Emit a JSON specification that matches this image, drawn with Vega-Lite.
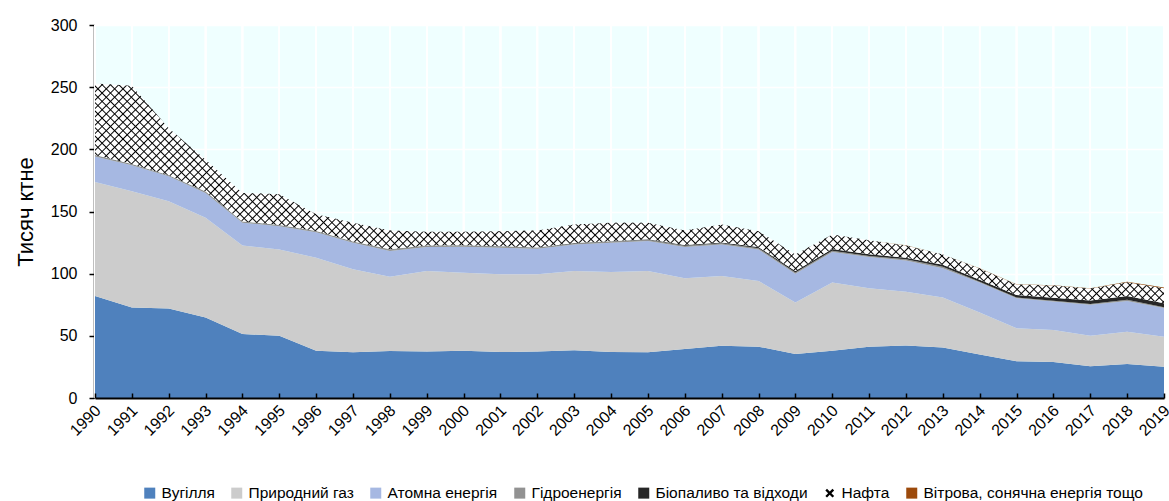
{
"$schema": "https://vega.github.io/schema/vega-lite/v6.json",
"width": 1069, "height": 373,
"autosize": {"type": "none"},
"padding": {"left": 95, "top": 25, "right": 5, "bottom": 103},
"background": "white",
"config": {"view": {"fill": "#EFFFFF", "stroke": null}, "font": "Liberation Sans, Arial, sans-serif"},
"data": {"values": [
{"year":1990,"source":"Вугілля","value":82.1},{"year":1990,"source":"Природний газ","value":91.6},{"year":1990,"source":"Атомна енергія","value":20.6},{"year":1990,"source":"Гідроенергія","value":0.9},{"year":1990,"source":"Біопаливо та відходи","value":0.2},{"year":1990,"source":"Нафта","value":57.6},{"year":1990,"source":"Вітрова, сонячна енергія тощо","value":0},
{"year":1991,"source":"Вугілля","value":72.8},{"year":1991,"source":"Природний газ","value":93.5},{"year":1991,"source":"Атомна енергія","value":20.8},{"year":1991,"source":"Гідроенергія","value":1.0},{"year":1991,"source":"Біопаливо та відходи","value":0.2},{"year":1991,"source":"Нафта","value":62.9},{"year":1991,"source":"Вітрова, сонячна енергія тощо","value":0},
{"year":1992,"source":"Вугілля","value":72.0},{"year":1992,"source":"Природний газ","value":86.3},{"year":1992,"source":"Атомна енергія","value":20.0},{"year":1992,"source":"Гідроенергія","value":0.7},{"year":1992,"source":"Біопаливо та відходи","value":0.2},{"year":1992,"source":"Нафта","value":37.8},{"year":1992,"source":"Вітрова, сонячна енергія тощо","value":0},
{"year":1993,"source":"Вугілля","value":64.8},{"year":1993,"source":"Природний газ","value":80.1},{"year":1993,"source":"Атомна енергія","value":20.0},{"year":1993,"source":"Гідроенергія","value":0.9},{"year":1993,"source":"Біопаливо та відходи","value":0.2},{"year":1993,"source":"Нафта","value":25.7},{"year":1993,"source":"Вітрова, сонячна енергія тощо","value":0},
{"year":1994,"source":"Вугілля","value":51.4},{"year":1994,"source":"Природний газ","value":71.3},{"year":1994,"source":"Атомна енергія","value":18.2},{"year":1994,"source":"Гідроенергія","value":0.9},{"year":1994,"source":"Біопаливо та відходи","value":0.2},{"year":1994,"source":"Нафта","value":22.9},{"year":1994,"source":"Вітрова, сонячна енергія тощо","value":0},
{"year":1995,"source":"Вугілля","value":50.1},{"year":1995,"source":"Природний газ","value":69.4},{"year":1995,"source":"Атомна енергія","value":18.7},{"year":1995,"source":"Гідроенергія","value":0.8},{"year":1995,"source":"Біопаливо та відходи","value":0.2},{"year":1995,"source":"Нафта","value":24.7},{"year":1995,"source":"Вітрова, сонячна енергія тощо","value":0},
{"year":1996,"source":"Вугілля","value":38.1},{"year":1996,"source":"Природний газ","value":74.7},{"year":1996,"source":"Атомна енергія","value":20.6},{"year":1996,"source":"Гідроенергія","value":0.8},{"year":1996,"source":"Біопаливо та відходи","value":0.2},{"year":1996,"source":"Нафта","value":13.4},{"year":1996,"source":"Вітрова, сонячна енергія тощо","value":0},
{"year":1997,"source":"Вугілля","value":36.7},{"year":1997,"source":"Природний газ","value":66.8},{"year":1997,"source":"Атомна енергія","value":21.3},{"year":1997,"source":"Гідроенергія","value":0.9},{"year":1997,"source":"Біопаливо та відходи","value":0.2},{"year":1997,"source":"Нафта","value":15.0},{"year":1997,"source":"Вітрова, сонячна енергія тощо","value":0},
{"year":1998,"source":"Вугілля","value":37.9},{"year":1998,"source":"Природний газ","value":59.7},{"year":1998,"source":"Атомна енергія","value":20.6},{"year":1998,"source":"Гідроенергія","value":1.3},{"year":1998,"source":"Біопаливо та відходи","value":0.2},{"year":1998,"source":"Нафта","value":15.1},{"year":1998,"source":"Вітрова, сонячна енергія тощо","value":0},
{"year":1999,"source":"Вугілля","value":37.5},{"year":1999,"source":"Природний газ","value":64.7},{"year":1999,"source":"Атомна енергія","value":19.2},{"year":1999,"source":"Гідроенергія","value":1.1},{"year":1999,"source":"Біопаливо та відходи","value":0.2},{"year":1999,"source":"Нафта","value":11.0},{"year":1999,"source":"Вітрова, сонячна енергія тощо","value":0},
{"year":2000,"source":"Вугілля","value":38.0},{"year":2000,"source":"Природний газ","value":62.8},{"year":2000,"source":"Атомна енергія","value":20.8},{"year":2000,"source":"Гідроенергія","value":1.0},{"year":2000,"source":"Біопаливо та відходи","value":0.2},{"year":2000,"source":"Нафта","value":10.9},{"year":2000,"source":"Вітрова, сонячна енергія тощо","value":0},
{"year":2001,"source":"Вугілля","value":36.9},{"year":2001,"source":"Природний газ","value":62.6},{"year":2001,"source":"Атомна енергія","value":21.3},{"year":2001,"source":"Гідроенергія","value":1.0},{"year":2001,"source":"Біопаливо та відходи","value":0.3},{"year":2001,"source":"Нафта","value":12.1},{"year":2001,"source":"Вітрова, сонячна енергія тощо","value":0},
{"year":2002,"source":"Вугілля","value":37.5},{"year":2002,"source":"Природний газ","value":62.0},{"year":2002,"source":"Атомна енергія","value":20.5},{"year":2002,"source":"Гідроенергія","value":0.8},{"year":2002,"source":"Біопаливо та відходи","value":0.3},{"year":2002,"source":"Нафта","value":13.7},{"year":2002,"source":"Вітрова, сонячна енергія тощо","value":0},
{"year":2003,"source":"Вугілля","value":38.5},{"year":2003,"source":"Природний газ","value":63.7},{"year":2003,"source":"Атомна енергія","value":21.3},{"year":2003,"source":"Гідроенергія","value":0.8},{"year":2003,"source":"Біопаливо та відходи","value":0.3},{"year":2003,"source":"Нафта","value":15.0},{"year":2003,"source":"Вітрова, сонячна енергія тощо","value":0},
{"year":2004,"source":"Вугілля","value":37.0},{"year":2004,"source":"Природний газ","value":64.4},{"year":2004,"source":"Атомна енергія","value":23.4},{"year":2004,"source":"Гідроенергія","value":1.0},{"year":2004,"source":"Біопаливо та відходи","value":0.3},{"year":2004,"source":"Нафта","value":14.8},{"year":2004,"source":"Вітрова, сонячна енергія тощо","value":0},
{"year":2005,"source":"Вугілля","value":36.7},{"year":2005,"source":"Природний газ","value":65.5},{"year":2005,"source":"Атомна енергія","value":24.0},{"year":2005,"source":"Гідроенергія","value":1.1},{"year":2005,"source":"Біопаливо та відходи","value":0.4},{"year":2005,"source":"Нафта","value":13.2},{"year":2005,"source":"Вітрова, сонячна енергія тощо","value":0},
{"year":2006,"source":"Вугілля","value":39.4},{"year":2006,"source":"Природний газ","value":56.9},{"year":2006,"source":"Атомна енергія","value":25.1},{"year":2006,"source":"Гідроенергія","value":1.1},{"year":2006,"source":"Біопаливо та відходи","value":0.5},{"year":2006,"source":"Нафта","value":11.8},{"year":2006,"source":"Вітрова, сонячна енергія тощо","value":0},
{"year":2007,"source":"Вугілля","value":42.1},{"year":2007,"source":"Природний газ","value":56.1},{"year":2007,"source":"Атомна енергія","value":25.3},{"year":2007,"source":"Гідроенергія","value":0.9},{"year":2007,"source":"Біопаливо та відходи","value":0.6},{"year":2007,"source":"Нафта","value":14.6},{"year":2007,"source":"Вітрова, сонячна енергія тощо","value":0},
{"year":2008,"source":"Вугілля","value":41.3},{"year":2008,"source":"Природний газ","value":52.9},{"year":2008,"source":"Атомна енергія","value":25.3},{"year":2008,"source":"Гідроенергія","value":1.0},{"year":2008,"source":"Біопаливо та відходи","value":0.9},{"year":2008,"source":"Нафта","value":12.8},{"year":2008,"source":"Вітрова, сонячна енергія тощо","value":0},
{"year":2009,"source":"Вугілля","value":35.4},{"year":2009,"source":"Природний газ","value":41.4},{"year":2009,"source":"Атомна енергія","value":23.2},{"year":2009,"source":"Гідроенергія","value":1.0},{"year":2009,"source":"Біопаливо та відходи","value":1.1},{"year":2009,"source":"Нафта","value":13.4},{"year":2009,"source":"Вітрова, сонячна енергія тощо","value":0},
{"year":2010,"source":"Вугілля","value":38.1},{"year":2010,"source":"Природний газ","value":54.7},{"year":2010,"source":"Атомна енергія","value":24.6},{"year":2010,"source":"Гідроенергія","value":1.1},{"year":2010,"source":"Біопаливо та відходи","value":1.4},{"year":2010,"source":"Нафта","value":11.7},{"year":2010,"source":"Вітрова, сонячна енергія тощо","value":0},
{"year":2011,"source":"Вугілля","value":41.3},{"year":2011,"source":"Природний газ","value":47.0},{"year":2011,"source":"Атомна енергія","value":25.1},{"year":2011,"source":"Гідроенергія","value":0.9},{"year":2011,"source":"Біопаливо та відходи","value":1.4},{"year":2011,"source":"Нафта","value":11.1},{"year":2011,"source":"Вітрова, сонячна енергія тощо","value":0},
{"year":2012,"source":"Вугілля","value":42.3},{"year":2012,"source":"Природний газ","value":43.2},{"year":2012,"source":"Атомна енергія","value":25.1},{"year":2012,"source":"Гідроенергія","value":0.9},{"year":2012,"source":"Біопаливо та відходи","value":1.4},{"year":2012,"source":"Нафта","value":9.8},{"year":2012,"source":"Вітрова, сонячна енергія тощо","value":0.1},
{"year":2013,"source":"Вугілля","value":40.7},{"year":2013,"source":"Природний газ","value":40.1},{"year":2013,"source":"Атомна енергія","value":23.5},{"year":2013,"source":"Гідроенергія","value":1.2},{"year":2013,"source":"Біопаливо та відходи","value":1.6},{"year":2013,"source":"Нафта","value":8.3},{"year":2013,"source":"Вітрова, сонячна енергія тощо","value":0.1},
{"year":2014,"source":"Вугілля","value":34.9},{"year":2014,"source":"Природний газ","value":33.9},{"year":2014,"source":"Атомна енергія","value":24.0},{"year":2014,"source":"Гідроенергія","value":0.7},{"year":2014,"source":"Біопаливо та відходи","value":1.7},{"year":2014,"source":"Нафта","value":9.0},{"year":2014,"source":"Вітрова, сонячна енергія тощо","value":0.1},
{"year":2015,"source":"Вугілля","value":29.5},{"year":2015,"source":"Природний газ","value":26.7},{"year":2015,"source":"Атомна енергія","value":24.1},{"year":2015,"source":"Гідроенергія","value":0.6},{"year":2015,"source":"Біопаливо та відходи","value":2.0},{"year":2015,"source":"Нафта","value":8.4},{"year":2015,"source":"Вітрова, сонячна енергія тощо","value":0.2},
{"year":2016,"source":"Вугілля","value":29.0},{"year":2016,"source":"Природний газ","value":25.6},{"year":2016,"source":"Атомна енергія","value":23.0},{"year":2016,"source":"Гідроенергія","value":0.7},{"year":2016,"source":"Біопаливо та відходи","value":2.3},{"year":2016,"source":"Нафта","value":9.9},{"year":2016,"source":"Вітрова, сонячна енергія тощо","value":0.2},
{"year":2017,"source":"Вугілля","value":25.5},{"year":2017,"source":"Природний газ","value":24.6},{"year":2017,"source":"Атомна енергія","value":24.8},{"year":2017,"source":"Гідроенергія","value":0.8},{"year":2017,"source":"Біопаливо та відходи","value":2.8},{"year":2017,"source":"Нафта","value":9.6},{"year":2017,"source":"Вітрова, сонячна енергія тощо","value":0.2},
{"year":2018,"source":"Вугілля","value":27.4},{"year":2018,"source":"Природний газ","value":25.9},{"year":2018,"source":"Атомна енергія","value":24.8},{"year":2018,"source":"Гідроенергія","value":0.9},{"year":2018,"source":"Біопаливо та відходи","value":3.0},{"year":2018,"source":"Нафта","value":11.1},{"year":2018,"source":"Вітрова, сонячна енергія тощо","value":0.3},
{"year":2019,"source":"Вугілля","value":25.2},{"year":2019,"source":"Природний газ","value":24.1},{"year":2019,"source":"Атомна енергія","value":23.0},{"year":2019,"source":"Гідроенергія","value":0.6},{"year":2019,"source":"Біопаливо та відходи","value":3.4},{"year":2019,"source":"Нафта","value":11.9},{"year":2019,"source":"Вітрова, сонячна енергія тощо","value":0.6}
]},
"transform": [{"stack": "value", "groupby": ["year"], "as": ["y0", "y1"]}],
"encoding": {
  "x": {"field": "year", "type": "quantitative",
    "scale": {"domain": [1990, 2019], "nice": false, "zero": false},
    "axis": {"values": [1990,1991,1992,1993,1994,1995,1996,1997,1998,1999,2000,2001,2002,2003,2004,2005,2006,2007,2008,2009,2010,2011,2012,2013,2014,2015,2016,2017,2018,2019],
      "format": "d", "labelAngle": -45, "labelFont": "Liberation Sans, Arial, sans-serif", "labelFontSize": 16, "labelColor": "#000000",
      "labelPadding": 9, "labelOffset": -3, "labelOverlap": false, "labelFlush": false, "labelBound": false, "title": null,
      "grid": false, "domainColor": "#000000", "domainWidth": 2, "tickColor": "#000000", "tickWidth": 1.5, "tickSize": -5, "zindex": 1}}
},
"layer": [
  {"mark": {"type": "rule", "color": "#FFFFFF", "strokeWidth": 1.5}, "encoding": {}},
  {"mark": {"type": "area", "interpolate": "linear"},
   "encoding": {
     "y": {"field": "y1", "type": "quantitative", "scale": {"domain": [0, 300], "nice": false},
       "axis": {"values": [0,50,100,150,200,250,300], "title": "Тисяч ктне", "titleFont": "Liberation Sans, Arial, sans-serif", "titleFontSize": 22, "titleFontWeight": "normal", "titleColor": "#000000", "titlePadding": 13,
         "labelFont": "Liberation Sans, Arial, sans-serif", "labelFontSize": 16, "labelColor": "#000000", "labelPadding": 12,
         "grid": true, "gridColor": "#FFFFFF", "gridWidth": 1.5, "domainColor": "#000000", "domainWidth": 1.5,
         "tickColor": "#000000", "tickWidth": 1.5, "tickSize": 5, "offset": 1, "zindex": 0}},
     "y2": {"field": "y0"},
     "fill": {"field": "source", "type": "nominal", "legend": null,
       "sort": ["Вугілля","Природний газ","Атомна енергія","Гідроенергія","Біопаливо та відходи","Нафта","Вітрова, сонячна енергія тощо"],
       "scale": {"range": ["#4F81BD","#CCCCCC","#A6B8E2","#929292","#262626","#FFFFFF","#9C4A0B"]}}
   }},
  {"transform": [{"filter": "datum.source === 'Нафта'"}],
   "mark": {"type": "area", "interpolate": "linear",
     "fill": {"gradient": "linear", "x1": 0, "y1": 0, "x2": 1.25, "y2": 0.257, "stops": [
{"offset":0,"color":"transparent"},
{"offset":0.005,"color":"transparent"},{"offset":0.006,"color":"black"},{"offset":0.007,"color":"transparent"},
{"offset":0.011,"color":"transparent"},{"offset":0.012,"color":"black"},{"offset":0.013,"color":"transparent"},
{"offset":0.017,"color":"transparent"},{"offset":0.018,"color":"black"},{"offset":0.019,"color":"transparent"},
{"offset":0.023,"color":"transparent"},{"offset":0.024,"color":"black"},{"offset":0.025,"color":"transparent"},
{"offset":0.029,"color":"transparent"},{"offset":0.03,"color":"black"},{"offset":0.031,"color":"transparent"},
{"offset":0.035,"color":"transparent"},{"offset":0.036,"color":"black"},{"offset":0.037,"color":"transparent"},
{"offset":0.041,"color":"transparent"},{"offset":0.042,"color":"black"},{"offset":0.043,"color":"transparent"},
{"offset":0.047,"color":"transparent"},{"offset":0.048,"color":"black"},{"offset":0.049,"color":"transparent"},
{"offset":0.053,"color":"transparent"},{"offset":0.054,"color":"black"},{"offset":0.055,"color":"transparent"},
{"offset":0.059,"color":"transparent"},{"offset":0.06,"color":"black"},{"offset":0.061,"color":"transparent"},
{"offset":0.065,"color":"transparent"},{"offset":0.066,"color":"black"},{"offset":0.067,"color":"transparent"},
{"offset":0.071,"color":"transparent"},{"offset":0.072,"color":"black"},{"offset":0.073,"color":"transparent"},
{"offset":0.077,"color":"transparent"},{"offset":0.078,"color":"black"},{"offset":0.079,"color":"transparent"},
{"offset":0.083,"color":"transparent"},{"offset":0.084,"color":"black"},{"offset":0.085,"color":"transparent"},
{"offset":0.089,"color":"transparent"},{"offset":0.09,"color":"black"},{"offset":0.091,"color":"transparent"},
{"offset":0.095,"color":"transparent"},{"offset":0.096,"color":"black"},{"offset":0.097,"color":"transparent"},
{"offset":0.101,"color":"transparent"},{"offset":0.102,"color":"black"},{"offset":0.103,"color":"transparent"},
{"offset":0.107,"color":"transparent"},{"offset":0.108,"color":"black"},{"offset":0.109,"color":"transparent"},
{"offset":0.113,"color":"transparent"},{"offset":0.114,"color":"black"},{"offset":0.115,"color":"transparent"},
{"offset":0.119,"color":"transparent"},{"offset":0.12,"color":"black"},{"offset":0.121,"color":"transparent"},
{"offset":0.125,"color":"transparent"},{"offset":0.126,"color":"black"},{"offset":0.127,"color":"transparent"},
{"offset":0.131,"color":"transparent"},{"offset":0.132,"color":"black"},{"offset":0.133,"color":"transparent"},
{"offset":0.137,"color":"transparent"},{"offset":0.138,"color":"black"},{"offset":0.139,"color":"transparent"},
{"offset":0.143,"color":"transparent"},{"offset":0.144,"color":"black"},{"offset":0.145,"color":"transparent"},
{"offset":0.149,"color":"transparent"},{"offset":0.15,"color":"black"},{"offset":0.151,"color":"transparent"},
{"offset":0.155,"color":"transparent"},{"offset":0.156,"color":"black"},{"offset":0.157,"color":"transparent"},
{"offset":0.161,"color":"transparent"},{"offset":0.162,"color":"black"},{"offset":0.163,"color":"transparent"},
{"offset":0.167,"color":"transparent"},{"offset":0.168,"color":"black"},{"offset":0.169,"color":"transparent"},
{"offset":0.173,"color":"transparent"},{"offset":0.174,"color":"black"},{"offset":0.175,"color":"transparent"},
{"offset":0.179,"color":"transparent"},{"offset":0.18,"color":"black"},{"offset":0.181,"color":"transparent"},
{"offset":0.185,"color":"transparent"},{"offset":0.186,"color":"black"},{"offset":0.187,"color":"transparent"},
{"offset":0.191,"color":"transparent"},{"offset":0.192,"color":"black"},{"offset":0.193,"color":"transparent"},
{"offset":0.197,"color":"transparent"},{"offset":0.198,"color":"black"},{"offset":0.199,"color":"transparent"},
{"offset":0.203,"color":"transparent"},{"offset":0.204,"color":"black"},{"offset":0.205,"color":"transparent"},
{"offset":0.209,"color":"transparent"},{"offset":0.21,"color":"black"},{"offset":0.211,"color":"transparent"},
{"offset":0.215,"color":"transparent"},{"offset":0.216,"color":"black"},{"offset":0.217,"color":"transparent"},
{"offset":0.221,"color":"transparent"},{"offset":0.222,"color":"black"},{"offset":0.223,"color":"transparent"},
{"offset":0.227,"color":"transparent"},{"offset":0.228,"color":"black"},{"offset":0.229,"color":"transparent"},
{"offset":0.233,"color":"transparent"},{"offset":0.234,"color":"black"},{"offset":0.235,"color":"transparent"},
{"offset":0.239,"color":"transparent"},{"offset":0.24,"color":"black"},{"offset":0.241,"color":"transparent"},
{"offset":0.245,"color":"transparent"},{"offset":0.246,"color":"black"},{"offset":0.247,"color":"transparent"},
{"offset":0.251,"color":"transparent"},{"offset":0.252,"color":"black"},{"offset":0.253,"color":"transparent"},
{"offset":0.257,"color":"transparent"},{"offset":0.258,"color":"black"},{"offset":0.259,"color":"transparent"},
{"offset":0.263,"color":"transparent"},{"offset":0.264,"color":"black"},{"offset":0.265,"color":"transparent"},
{"offset":0.269,"color":"transparent"},{"offset":0.27,"color":"black"},{"offset":0.271,"color":"transparent"},
{"offset":0.275,"color":"transparent"},{"offset":0.276,"color":"black"},{"offset":0.277,"color":"transparent"},
{"offset":0.281,"color":"transparent"},{"offset":0.282,"color":"black"},{"offset":0.283,"color":"transparent"},
{"offset":0.287,"color":"transparent"},{"offset":0.288,"color":"black"},{"offset":0.289,"color":"transparent"},
{"offset":0.293,"color":"transparent"},{"offset":0.294,"color":"black"},{"offset":0.295,"color":"transparent"},
{"offset":0.299,"color":"transparent"},{"offset":0.3,"color":"black"},{"offset":0.301,"color":"transparent"},
{"offset":0.305,"color":"transparent"},{"offset":0.306,"color":"black"},{"offset":0.307,"color":"transparent"},
{"offset":0.311,"color":"transparent"},{"offset":0.312,"color":"black"},{"offset":0.313,"color":"transparent"},
{"offset":0.317,"color":"transparent"},{"offset":0.318,"color":"black"},{"offset":0.319,"color":"transparent"},
{"offset":0.323,"color":"transparent"},{"offset":0.324,"color":"black"},{"offset":0.325,"color":"transparent"},
{"offset":0.329,"color":"transparent"},{"offset":0.33,"color":"black"},{"offset":0.331,"color":"transparent"},
{"offset":0.335,"color":"transparent"},{"offset":0.336,"color":"black"},{"offset":0.337,"color":"transparent"},
{"offset":0.341,"color":"transparent"},{"offset":0.342,"color":"black"},{"offset":0.343,"color":"transparent"},
{"offset":0.347,"color":"transparent"},{"offset":0.348,"color":"black"},{"offset":0.349,"color":"transparent"},
{"offset":0.353,"color":"transparent"},{"offset":0.354,"color":"black"},{"offset":0.355,"color":"transparent"},
{"offset":0.359,"color":"transparent"},{"offset":0.36,"color":"black"},{"offset":0.361,"color":"transparent"},
{"offset":0.365,"color":"transparent"},{"offset":0.366,"color":"black"},{"offset":0.367,"color":"transparent"},
{"offset":0.371,"color":"transparent"},{"offset":0.372,"color":"black"},{"offset":0.373,"color":"transparent"},
{"offset":0.377,"color":"transparent"},{"offset":0.378,"color":"black"},{"offset":0.379,"color":"transparent"},
{"offset":0.383,"color":"transparent"},{"offset":0.384,"color":"black"},{"offset":0.385,"color":"transparent"},
{"offset":0.389,"color":"transparent"},{"offset":0.39,"color":"black"},{"offset":0.391,"color":"transparent"},
{"offset":0.395,"color":"transparent"},{"offset":0.396,"color":"black"},{"offset":0.397,"color":"transparent"},
{"offset":0.401,"color":"transparent"},{"offset":0.402,"color":"black"},{"offset":0.403,"color":"transparent"},
{"offset":0.407,"color":"transparent"},{"offset":0.408,"color":"black"},{"offset":0.409,"color":"transparent"},
{"offset":0.413,"color":"transparent"},{"offset":0.414,"color":"black"},{"offset":0.415,"color":"transparent"},
{"offset":0.419,"color":"transparent"},{"offset":0.42,"color":"black"},{"offset":0.421,"color":"transparent"},
{"offset":0.425,"color":"transparent"},{"offset":0.426,"color":"black"},{"offset":0.427,"color":"transparent"},
{"offset":0.431,"color":"transparent"},{"offset":0.432,"color":"black"},{"offset":0.433,"color":"transparent"},
{"offset":0.437,"color":"transparent"},{"offset":0.438,"color":"black"},{"offset":0.439,"color":"transparent"},
{"offset":0.443,"color":"transparent"},{"offset":0.444,"color":"black"},{"offset":0.445,"color":"transparent"},
{"offset":0.449,"color":"transparent"},{"offset":0.45,"color":"black"},{"offset":0.451,"color":"transparent"},
{"offset":0.455,"color":"transparent"},{"offset":0.456,"color":"black"},{"offset":0.457,"color":"transparent"},
{"offset":0.461,"color":"transparent"},{"offset":0.462,"color":"black"},{"offset":0.463,"color":"transparent"},
{"offset":0.467,"color":"transparent"},{"offset":0.468,"color":"black"},{"offset":0.469,"color":"transparent"},
{"offset":0.473,"color":"transparent"},{"offset":0.474,"color":"black"},{"offset":0.475,"color":"transparent"},
{"offset":0.479,"color":"transparent"},{"offset":0.48,"color":"black"},{"offset":0.481,"color":"transparent"},
{"offset":0.485,"color":"transparent"},{"offset":0.486,"color":"black"},{"offset":0.487,"color":"transparent"},
{"offset":0.491,"color":"transparent"},{"offset":0.492,"color":"black"},{"offset":0.493,"color":"transparent"},
{"offset":0.497,"color":"transparent"},{"offset":0.498,"color":"black"},{"offset":0.499,"color":"transparent"},
{"offset":0.503,"color":"transparent"},{"offset":0.504,"color":"black"},{"offset":0.505,"color":"transparent"},
{"offset":0.509,"color":"transparent"},{"offset":0.51,"color":"black"},{"offset":0.511,"color":"transparent"},
{"offset":0.515,"color":"transparent"},{"offset":0.516,"color":"black"},{"offset":0.517,"color":"transparent"},
{"offset":0.521,"color":"transparent"},{"offset":0.522,"color":"black"},{"offset":0.523,"color":"transparent"},
{"offset":0.527,"color":"transparent"},{"offset":0.528,"color":"black"},{"offset":0.529,"color":"transparent"},
{"offset":0.533,"color":"transparent"},{"offset":0.534,"color":"black"},{"offset":0.535,"color":"transparent"},
{"offset":0.539,"color":"transparent"},{"offset":0.54,"color":"black"},{"offset":0.541,"color":"transparent"},
{"offset":0.545,"color":"transparent"},{"offset":0.546,"color":"black"},{"offset":0.547,"color":"transparent"},
{"offset":0.551,"color":"transparent"},{"offset":0.552,"color":"black"},{"offset":0.553,"color":"transparent"},
{"offset":0.557,"color":"transparent"},{"offset":0.558,"color":"black"},{"offset":0.559,"color":"transparent"},
{"offset":0.563,"color":"transparent"},{"offset":0.564,"color":"black"},{"offset":0.565,"color":"transparent"},
{"offset":0.569,"color":"transparent"},{"offset":0.57,"color":"black"},{"offset":0.571,"color":"transparent"},
{"offset":0.575,"color":"transparent"},{"offset":0.576,"color":"black"},{"offset":0.577,"color":"transparent"},
{"offset":0.581,"color":"transparent"},{"offset":0.582,"color":"black"},{"offset":0.583,"color":"transparent"},
{"offset":0.587,"color":"transparent"},{"offset":0.588,"color":"black"},{"offset":0.589,"color":"transparent"},
{"offset":0.593,"color":"transparent"},{"offset":0.594,"color":"black"},{"offset":0.595,"color":"transparent"},
{"offset":0.599,"color":"transparent"},{"offset":0.6,"color":"black"},{"offset":0.601,"color":"transparent"},
{"offset":0.605,"color":"transparent"},{"offset":0.606,"color":"black"},{"offset":0.607,"color":"transparent"},
{"offset":0.611,"color":"transparent"},{"offset":0.612,"color":"black"},{"offset":0.613,"color":"transparent"},
{"offset":0.617,"color":"transparent"},{"offset":0.618,"color":"black"},{"offset":0.619,"color":"transparent"},
{"offset":0.623,"color":"transparent"},{"offset":0.624,"color":"black"},{"offset":0.625,"color":"transparent"},
{"offset":0.629,"color":"transparent"},{"offset":0.63,"color":"black"},{"offset":0.631,"color":"transparent"},
{"offset":0.635,"color":"transparent"},{"offset":0.636,"color":"black"},{"offset":0.637,"color":"transparent"},
{"offset":0.641,"color":"transparent"},{"offset":0.642,"color":"black"},{"offset":0.643,"color":"transparent"},
{"offset":0.647,"color":"transparent"},{"offset":0.648,"color":"black"},{"offset":0.649,"color":"transparent"},
{"offset":0.653,"color":"transparent"},{"offset":0.654,"color":"black"},{"offset":0.655,"color":"transparent"},
{"offset":0.659,"color":"transparent"},{"offset":0.66,"color":"black"},{"offset":0.661,"color":"transparent"},
{"offset":0.665,"color":"transparent"},{"offset":0.666,"color":"black"},{"offset":0.667,"color":"transparent"},
{"offset":0.671,"color":"transparent"},{"offset":0.672,"color":"black"},{"offset":0.673,"color":"transparent"},
{"offset":0.677,"color":"transparent"},{"offset":0.678,"color":"black"},{"offset":0.679,"color":"transparent"},
{"offset":0.683,"color":"transparent"},{"offset":0.684,"color":"black"},{"offset":0.685,"color":"transparent"},
{"offset":0.689,"color":"transparent"},{"offset":0.69,"color":"black"},{"offset":0.691,"color":"transparent"},
{"offset":0.695,"color":"transparent"},{"offset":0.696,"color":"black"},{"offset":0.697,"color":"transparent"},
{"offset":0.701,"color":"transparent"},{"offset":0.702,"color":"black"},{"offset":0.703,"color":"transparent"},
{"offset":0.707,"color":"transparent"},{"offset":0.708,"color":"black"},{"offset":0.709,"color":"transparent"},
{"offset":0.713,"color":"transparent"},{"offset":0.714,"color":"black"},{"offset":0.715,"color":"transparent"},
{"offset":0.719,"color":"transparent"},{"offset":0.72,"color":"black"},{"offset":0.721,"color":"transparent"},
{"offset":0.725,"color":"transparent"},{"offset":0.726,"color":"black"},{"offset":0.727,"color":"transparent"},
{"offset":0.731,"color":"transparent"},{"offset":0.732,"color":"black"},{"offset":0.733,"color":"transparent"},
{"offset":0.737,"color":"transparent"},{"offset":0.738,"color":"black"},{"offset":0.739,"color":"transparent"},
{"offset":0.743,"color":"transparent"},{"offset":0.744,"color":"black"},{"offset":0.745,"color":"transparent"},
{"offset":0.749,"color":"transparent"},{"offset":0.75,"color":"black"},{"offset":0.751,"color":"transparent"},
{"offset":0.755,"color":"transparent"},{"offset":0.756,"color":"black"},{"offset":0.757,"color":"transparent"},
{"offset":0.761,"color":"transparent"},{"offset":0.762,"color":"black"},{"offset":0.763,"color":"transparent"},
{"offset":0.767,"color":"transparent"},{"offset":0.768,"color":"black"},{"offset":0.769,"color":"transparent"},
{"offset":0.773,"color":"transparent"},{"offset":0.774,"color":"black"},{"offset":0.775,"color":"transparent"},
{"offset":0.779,"color":"transparent"},{"offset":0.78,"color":"black"},{"offset":0.781,"color":"transparent"},
{"offset":0.785,"color":"transparent"},{"offset":0.786,"color":"black"},{"offset":0.787,"color":"transparent"},
{"offset":0.791,"color":"transparent"},{"offset":0.792,"color":"black"},{"offset":0.793,"color":"transparent"},
{"offset":0.797,"color":"transparent"},{"offset":0.798,"color":"black"},{"offset":0.799,"color":"transparent"},
{"offset":0.803,"color":"transparent"},{"offset":0.804,"color":"black"},{"offset":0.805,"color":"transparent"},
{"offset":0.809,"color":"transparent"},{"offset":0.81,"color":"black"},{"offset":0.811,"color":"transparent"},
{"offset":0.815,"color":"transparent"},{"offset":0.816,"color":"black"},{"offset":0.817,"color":"transparent"},
{"offset":0.821,"color":"transparent"},{"offset":0.822,"color":"black"},{"offset":0.823,"color":"transparent"},
{"offset":0.827,"color":"transparent"},{"offset":0.828,"color":"black"},{"offset":0.829,"color":"transparent"},
{"offset":0.833,"color":"transparent"},{"offset":0.834,"color":"black"},{"offset":0.835,"color":"transparent"},
{"offset":0.839,"color":"transparent"},{"offset":0.84,"color":"black"},{"offset":0.841,"color":"transparent"},
{"offset":0.845,"color":"transparent"},{"offset":0.846,"color":"black"},{"offset":0.847,"color":"transparent"},
{"offset":0.851,"color":"transparent"},{"offset":0.852,"color":"black"},{"offset":0.853,"color":"transparent"},
{"offset":0.857,"color":"transparent"},{"offset":0.858,"color":"black"},{"offset":0.859,"color":"transparent"},
{"offset":0.863,"color":"transparent"},{"offset":0.864,"color":"black"},{"offset":0.865,"color":"transparent"},
{"offset":0.869,"color":"transparent"},{"offset":0.87,"color":"black"},{"offset":0.871,"color":"transparent"},
{"offset":0.875,"color":"transparent"},{"offset":0.876,"color":"black"},{"offset":0.877,"color":"transparent"},
{"offset":0.881,"color":"transparent"},{"offset":0.882,"color":"black"},{"offset":0.883,"color":"transparent"},
{"offset":0.887,"color":"transparent"},{"offset":0.888,"color":"black"},{"offset":0.889,"color":"transparent"},
{"offset":0.893,"color":"transparent"},{"offset":0.894,"color":"black"},{"offset":0.895,"color":"transparent"},
{"offset":0.899,"color":"transparent"},{"offset":0.9,"color":"black"},{"offset":0.901,"color":"transparent"},
{"offset":0.905,"color":"transparent"},{"offset":0.906,"color":"black"},{"offset":0.907,"color":"transparent"},
{"offset":0.911,"color":"transparent"},{"offset":0.912,"color":"black"},{"offset":0.913,"color":"transparent"},
{"offset":0.917,"color":"transparent"},{"offset":0.918,"color":"black"},{"offset":0.919,"color":"transparent"},
{"offset":0.923,"color":"transparent"},{"offset":0.924,"color":"black"},{"offset":0.925,"color":"transparent"},
{"offset":0.929,"color":"transparent"},{"offset":0.93,"color":"black"},{"offset":0.931,"color":"transparent"}
]}},
   "encoding": {"y": {"field": "y1", "type": "quantitative", "title": "Тисяч ктне"}, "y2": {"field": "y0"}}},
  {"transform": [{"filter": "datum.source === 'Нафта'"}],
   "mark": {"type": "area", "interpolate": "linear",
     "fill": {"gradient": "linear", "x1": 0, "y1": 1, "x2": 1.25, "y2": 0.743, "stops": [
{"offset":0,"color":"transparent"},
{"offset":0.005,"color":"transparent"},{"offset":0.006,"color":"black"},{"offset":0.007,"color":"transparent"},
{"offset":0.011,"color":"transparent"},{"offset":0.012,"color":"black"},{"offset":0.013,"color":"transparent"},
{"offset":0.017,"color":"transparent"},{"offset":0.018,"color":"black"},{"offset":0.019,"color":"transparent"},
{"offset":0.023,"color":"transparent"},{"offset":0.024,"color":"black"},{"offset":0.025,"color":"transparent"},
{"offset":0.029,"color":"transparent"},{"offset":0.03,"color":"black"},{"offset":0.031,"color":"transparent"},
{"offset":0.035,"color":"transparent"},{"offset":0.036,"color":"black"},{"offset":0.037,"color":"transparent"},
{"offset":0.041,"color":"transparent"},{"offset":0.042,"color":"black"},{"offset":0.043,"color":"transparent"},
{"offset":0.047,"color":"transparent"},{"offset":0.048,"color":"black"},{"offset":0.049,"color":"transparent"},
{"offset":0.053,"color":"transparent"},{"offset":0.054,"color":"black"},{"offset":0.055,"color":"transparent"},
{"offset":0.059,"color":"transparent"},{"offset":0.06,"color":"black"},{"offset":0.061,"color":"transparent"},
{"offset":0.065,"color":"transparent"},{"offset":0.066,"color":"black"},{"offset":0.067,"color":"transparent"},
{"offset":0.071,"color":"transparent"},{"offset":0.072,"color":"black"},{"offset":0.073,"color":"transparent"},
{"offset":0.077,"color":"transparent"},{"offset":0.078,"color":"black"},{"offset":0.079,"color":"transparent"},
{"offset":0.083,"color":"transparent"},{"offset":0.084,"color":"black"},{"offset":0.085,"color":"transparent"},
{"offset":0.089,"color":"transparent"},{"offset":0.09,"color":"black"},{"offset":0.091,"color":"transparent"},
{"offset":0.095,"color":"transparent"},{"offset":0.096,"color":"black"},{"offset":0.097,"color":"transparent"},
{"offset":0.101,"color":"transparent"},{"offset":0.102,"color":"black"},{"offset":0.103,"color":"transparent"},
{"offset":0.107,"color":"transparent"},{"offset":0.108,"color":"black"},{"offset":0.109,"color":"transparent"},
{"offset":0.113,"color":"transparent"},{"offset":0.114,"color":"black"},{"offset":0.115,"color":"transparent"},
{"offset":0.119,"color":"transparent"},{"offset":0.12,"color":"black"},{"offset":0.121,"color":"transparent"},
{"offset":0.125,"color":"transparent"},{"offset":0.126,"color":"black"},{"offset":0.127,"color":"transparent"},
{"offset":0.131,"color":"transparent"},{"offset":0.132,"color":"black"},{"offset":0.133,"color":"transparent"},
{"offset":0.137,"color":"transparent"},{"offset":0.138,"color":"black"},{"offset":0.139,"color":"transparent"},
{"offset":0.143,"color":"transparent"},{"offset":0.144,"color":"black"},{"offset":0.145,"color":"transparent"},
{"offset":0.149,"color":"transparent"},{"offset":0.15,"color":"black"},{"offset":0.151,"color":"transparent"},
{"offset":0.155,"color":"transparent"},{"offset":0.156,"color":"black"},{"offset":0.157,"color":"transparent"},
{"offset":0.161,"color":"transparent"},{"offset":0.162,"color":"black"},{"offset":0.163,"color":"transparent"},
{"offset":0.167,"color":"transparent"},{"offset":0.168,"color":"black"},{"offset":0.169,"color":"transparent"},
{"offset":0.173,"color":"transparent"},{"offset":0.174,"color":"black"},{"offset":0.175,"color":"transparent"},
{"offset":0.179,"color":"transparent"},{"offset":0.18,"color":"black"},{"offset":0.181,"color":"transparent"},
{"offset":0.185,"color":"transparent"},{"offset":0.186,"color":"black"},{"offset":0.187,"color":"transparent"},
{"offset":0.191,"color":"transparent"},{"offset":0.192,"color":"black"},{"offset":0.193,"color":"transparent"},
{"offset":0.197,"color":"transparent"},{"offset":0.198,"color":"black"},{"offset":0.199,"color":"transparent"},
{"offset":0.203,"color":"transparent"},{"offset":0.204,"color":"black"},{"offset":0.205,"color":"transparent"},
{"offset":0.209,"color":"transparent"},{"offset":0.21,"color":"black"},{"offset":0.211,"color":"transparent"},
{"offset":0.215,"color":"transparent"},{"offset":0.216,"color":"black"},{"offset":0.217,"color":"transparent"},
{"offset":0.221,"color":"transparent"},{"offset":0.222,"color":"black"},{"offset":0.223,"color":"transparent"},
{"offset":0.227,"color":"transparent"},{"offset":0.228,"color":"black"},{"offset":0.229,"color":"transparent"},
{"offset":0.233,"color":"transparent"},{"offset":0.234,"color":"black"},{"offset":0.235,"color":"transparent"},
{"offset":0.239,"color":"transparent"},{"offset":0.24,"color":"black"},{"offset":0.241,"color":"transparent"},
{"offset":0.245,"color":"transparent"},{"offset":0.246,"color":"black"},{"offset":0.247,"color":"transparent"},
{"offset":0.251,"color":"transparent"},{"offset":0.252,"color":"black"},{"offset":0.253,"color":"transparent"},
{"offset":0.257,"color":"transparent"},{"offset":0.258,"color":"black"},{"offset":0.259,"color":"transparent"},
{"offset":0.263,"color":"transparent"},{"offset":0.264,"color":"black"},{"offset":0.265,"color":"transparent"},
{"offset":0.269,"color":"transparent"},{"offset":0.27,"color":"black"},{"offset":0.271,"color":"transparent"},
{"offset":0.275,"color":"transparent"},{"offset":0.276,"color":"black"},{"offset":0.277,"color":"transparent"},
{"offset":0.281,"color":"transparent"},{"offset":0.282,"color":"black"},{"offset":0.283,"color":"transparent"},
{"offset":0.287,"color":"transparent"},{"offset":0.288,"color":"black"},{"offset":0.289,"color":"transparent"},
{"offset":0.293,"color":"transparent"},{"offset":0.294,"color":"black"},{"offset":0.295,"color":"transparent"},
{"offset":0.299,"color":"transparent"},{"offset":0.3,"color":"black"},{"offset":0.301,"color":"transparent"},
{"offset":0.305,"color":"transparent"},{"offset":0.306,"color":"black"},{"offset":0.307,"color":"transparent"},
{"offset":0.311,"color":"transparent"},{"offset":0.312,"color":"black"},{"offset":0.313,"color":"transparent"},
{"offset":0.317,"color":"transparent"},{"offset":0.318,"color":"black"},{"offset":0.319,"color":"transparent"},
{"offset":0.323,"color":"transparent"},{"offset":0.324,"color":"black"},{"offset":0.325,"color":"transparent"},
{"offset":0.329,"color":"transparent"},{"offset":0.33,"color":"black"},{"offset":0.331,"color":"transparent"},
{"offset":0.335,"color":"transparent"},{"offset":0.336,"color":"black"},{"offset":0.337,"color":"transparent"},
{"offset":0.341,"color":"transparent"},{"offset":0.342,"color":"black"},{"offset":0.343,"color":"transparent"},
{"offset":0.347,"color":"transparent"},{"offset":0.348,"color":"black"},{"offset":0.349,"color":"transparent"},
{"offset":0.353,"color":"transparent"},{"offset":0.354,"color":"black"},{"offset":0.355,"color":"transparent"},
{"offset":0.359,"color":"transparent"},{"offset":0.36,"color":"black"},{"offset":0.361,"color":"transparent"},
{"offset":0.365,"color":"transparent"},{"offset":0.366,"color":"black"},{"offset":0.367,"color":"transparent"},
{"offset":0.371,"color":"transparent"},{"offset":0.372,"color":"black"},{"offset":0.373,"color":"transparent"},
{"offset":0.377,"color":"transparent"},{"offset":0.378,"color":"black"},{"offset":0.379,"color":"transparent"},
{"offset":0.383,"color":"transparent"},{"offset":0.384,"color":"black"},{"offset":0.385,"color":"transparent"},
{"offset":0.389,"color":"transparent"},{"offset":0.39,"color":"black"},{"offset":0.391,"color":"transparent"},
{"offset":0.395,"color":"transparent"},{"offset":0.396,"color":"black"},{"offset":0.397,"color":"transparent"},
{"offset":0.401,"color":"transparent"},{"offset":0.402,"color":"black"},{"offset":0.403,"color":"transparent"},
{"offset":0.407,"color":"transparent"},{"offset":0.408,"color":"black"},{"offset":0.409,"color":"transparent"},
{"offset":0.413,"color":"transparent"},{"offset":0.414,"color":"black"},{"offset":0.415,"color":"transparent"},
{"offset":0.419,"color":"transparent"},{"offset":0.42,"color":"black"},{"offset":0.421,"color":"transparent"},
{"offset":0.425,"color":"transparent"},{"offset":0.426,"color":"black"},{"offset":0.427,"color":"transparent"},
{"offset":0.431,"color":"transparent"},{"offset":0.432,"color":"black"},{"offset":0.433,"color":"transparent"},
{"offset":0.437,"color":"transparent"},{"offset":0.438,"color":"black"},{"offset":0.439,"color":"transparent"},
{"offset":0.443,"color":"transparent"},{"offset":0.444,"color":"black"},{"offset":0.445,"color":"transparent"},
{"offset":0.449,"color":"transparent"},{"offset":0.45,"color":"black"},{"offset":0.451,"color":"transparent"},
{"offset":0.455,"color":"transparent"},{"offset":0.456,"color":"black"},{"offset":0.457,"color":"transparent"},
{"offset":0.461,"color":"transparent"},{"offset":0.462,"color":"black"},{"offset":0.463,"color":"transparent"},
{"offset":0.467,"color":"transparent"},{"offset":0.468,"color":"black"},{"offset":0.469,"color":"transparent"},
{"offset":0.473,"color":"transparent"},{"offset":0.474,"color":"black"},{"offset":0.475,"color":"transparent"},
{"offset":0.479,"color":"transparent"},{"offset":0.48,"color":"black"},{"offset":0.481,"color":"transparent"},
{"offset":0.485,"color":"transparent"},{"offset":0.486,"color":"black"},{"offset":0.487,"color":"transparent"},
{"offset":0.491,"color":"transparent"},{"offset":0.492,"color":"black"},{"offset":0.493,"color":"transparent"},
{"offset":0.497,"color":"transparent"},{"offset":0.498,"color":"black"},{"offset":0.499,"color":"transparent"},
{"offset":0.503,"color":"transparent"},{"offset":0.504,"color":"black"},{"offset":0.505,"color":"transparent"},
{"offset":0.509,"color":"transparent"},{"offset":0.51,"color":"black"},{"offset":0.511,"color":"transparent"},
{"offset":0.515,"color":"transparent"},{"offset":0.516,"color":"black"},{"offset":0.517,"color":"transparent"},
{"offset":0.521,"color":"transparent"},{"offset":0.522,"color":"black"},{"offset":0.523,"color":"transparent"},
{"offset":0.527,"color":"transparent"},{"offset":0.528,"color":"black"},{"offset":0.529,"color":"transparent"},
{"offset":0.533,"color":"transparent"},{"offset":0.534,"color":"black"},{"offset":0.535,"color":"transparent"},
{"offset":0.539,"color":"transparent"},{"offset":0.54,"color":"black"},{"offset":0.541,"color":"transparent"},
{"offset":0.545,"color":"transparent"},{"offset":0.546,"color":"black"},{"offset":0.547,"color":"transparent"},
{"offset":0.551,"color":"transparent"},{"offset":0.552,"color":"black"},{"offset":0.553,"color":"transparent"},
{"offset":0.557,"color":"transparent"},{"offset":0.558,"color":"black"},{"offset":0.559,"color":"transparent"},
{"offset":0.563,"color":"transparent"},{"offset":0.564,"color":"black"},{"offset":0.565,"color":"transparent"},
{"offset":0.569,"color":"transparent"},{"offset":0.57,"color":"black"},{"offset":0.571,"color":"transparent"},
{"offset":0.575,"color":"transparent"},{"offset":0.576,"color":"black"},{"offset":0.577,"color":"transparent"},
{"offset":0.581,"color":"transparent"},{"offset":0.582,"color":"black"},{"offset":0.583,"color":"transparent"},
{"offset":0.587,"color":"transparent"},{"offset":0.588,"color":"black"},{"offset":0.589,"color":"transparent"},
{"offset":0.593,"color":"transparent"},{"offset":0.594,"color":"black"},{"offset":0.595,"color":"transparent"},
{"offset":0.599,"color":"transparent"},{"offset":0.6,"color":"black"},{"offset":0.601,"color":"transparent"},
{"offset":0.605,"color":"transparent"},{"offset":0.606,"color":"black"},{"offset":0.607,"color":"transparent"},
{"offset":0.611,"color":"transparent"},{"offset":0.612,"color":"black"},{"offset":0.613,"color":"transparent"},
{"offset":0.617,"color":"transparent"},{"offset":0.618,"color":"black"},{"offset":0.619,"color":"transparent"},
{"offset":0.623,"color":"transparent"},{"offset":0.624,"color":"black"},{"offset":0.625,"color":"transparent"},
{"offset":0.629,"color":"transparent"},{"offset":0.63,"color":"black"},{"offset":0.631,"color":"transparent"},
{"offset":0.635,"color":"transparent"},{"offset":0.636,"color":"black"},{"offset":0.637,"color":"transparent"},
{"offset":0.641,"color":"transparent"},{"offset":0.642,"color":"black"},{"offset":0.643,"color":"transparent"},
{"offset":0.647,"color":"transparent"},{"offset":0.648,"color":"black"},{"offset":0.649,"color":"transparent"},
{"offset":0.653,"color":"transparent"},{"offset":0.654,"color":"black"},{"offset":0.655,"color":"transparent"},
{"offset":0.659,"color":"transparent"},{"offset":0.66,"color":"black"},{"offset":0.661,"color":"transparent"},
{"offset":0.665,"color":"transparent"},{"offset":0.666,"color":"black"},{"offset":0.667,"color":"transparent"},
{"offset":0.671,"color":"transparent"},{"offset":0.672,"color":"black"},{"offset":0.673,"color":"transparent"},
{"offset":0.677,"color":"transparent"},{"offset":0.678,"color":"black"},{"offset":0.679,"color":"transparent"},
{"offset":0.683,"color":"transparent"},{"offset":0.684,"color":"black"},{"offset":0.685,"color":"transparent"},
{"offset":0.689,"color":"transparent"},{"offset":0.69,"color":"black"},{"offset":0.691,"color":"transparent"},
{"offset":0.695,"color":"transparent"},{"offset":0.696,"color":"black"},{"offset":0.697,"color":"transparent"},
{"offset":0.701,"color":"transparent"},{"offset":0.702,"color":"black"},{"offset":0.703,"color":"transparent"},
{"offset":0.707,"color":"transparent"},{"offset":0.708,"color":"black"},{"offset":0.709,"color":"transparent"},
{"offset":0.713,"color":"transparent"},{"offset":0.714,"color":"black"},{"offset":0.715,"color":"transparent"},
{"offset":0.719,"color":"transparent"},{"offset":0.72,"color":"black"},{"offset":0.721,"color":"transparent"},
{"offset":0.725,"color":"transparent"},{"offset":0.726,"color":"black"},{"offset":0.727,"color":"transparent"},
{"offset":0.731,"color":"transparent"},{"offset":0.732,"color":"black"},{"offset":0.733,"color":"transparent"},
{"offset":0.737,"color":"transparent"},{"offset":0.738,"color":"black"},{"offset":0.739,"color":"transparent"},
{"offset":0.743,"color":"transparent"},{"offset":0.744,"color":"black"},{"offset":0.745,"color":"transparent"},
{"offset":0.749,"color":"transparent"},{"offset":0.75,"color":"black"},{"offset":0.751,"color":"transparent"},
{"offset":0.755,"color":"transparent"},{"offset":0.756,"color":"black"},{"offset":0.757,"color":"transparent"},
{"offset":0.761,"color":"transparent"},{"offset":0.762,"color":"black"},{"offset":0.763,"color":"transparent"},
{"offset":0.767,"color":"transparent"},{"offset":0.768,"color":"black"},{"offset":0.769,"color":"transparent"},
{"offset":0.773,"color":"transparent"},{"offset":0.774,"color":"black"},{"offset":0.775,"color":"transparent"},
{"offset":0.779,"color":"transparent"},{"offset":0.78,"color":"black"},{"offset":0.781,"color":"transparent"},
{"offset":0.785,"color":"transparent"},{"offset":0.786,"color":"black"},{"offset":0.787,"color":"transparent"},
{"offset":0.791,"color":"transparent"},{"offset":0.792,"color":"black"},{"offset":0.793,"color":"transparent"},
{"offset":0.797,"color":"transparent"},{"offset":0.798,"color":"black"},{"offset":0.799,"color":"transparent"},
{"offset":0.803,"color":"transparent"},{"offset":0.804,"color":"black"},{"offset":0.805,"color":"transparent"},
{"offset":0.809,"color":"transparent"},{"offset":0.81,"color":"black"},{"offset":0.811,"color":"transparent"},
{"offset":0.815,"color":"transparent"},{"offset":0.816,"color":"black"},{"offset":0.817,"color":"transparent"},
{"offset":0.821,"color":"transparent"},{"offset":0.822,"color":"black"},{"offset":0.823,"color":"transparent"},
{"offset":0.827,"color":"transparent"},{"offset":0.828,"color":"black"},{"offset":0.829,"color":"transparent"},
{"offset":0.833,"color":"transparent"},{"offset":0.834,"color":"black"},{"offset":0.835,"color":"transparent"},
{"offset":0.839,"color":"transparent"},{"offset":0.84,"color":"black"},{"offset":0.841,"color":"transparent"},
{"offset":0.845,"color":"transparent"},{"offset":0.846,"color":"black"},{"offset":0.847,"color":"transparent"},
{"offset":0.851,"color":"transparent"},{"offset":0.852,"color":"black"},{"offset":0.853,"color":"transparent"},
{"offset":0.857,"color":"transparent"},{"offset":0.858,"color":"black"},{"offset":0.859,"color":"transparent"},
{"offset":0.863,"color":"transparent"},{"offset":0.864,"color":"black"},{"offset":0.865,"color":"transparent"},
{"offset":0.869,"color":"transparent"},{"offset":0.87,"color":"black"},{"offset":0.871,"color":"transparent"},
{"offset":0.875,"color":"transparent"},{"offset":0.876,"color":"black"},{"offset":0.877,"color":"transparent"},
{"offset":0.881,"color":"transparent"},{"offset":0.882,"color":"black"},{"offset":0.883,"color":"transparent"},
{"offset":0.887,"color":"transparent"},{"offset":0.888,"color":"black"},{"offset":0.889,"color":"transparent"},
{"offset":0.893,"color":"transparent"},{"offset":0.894,"color":"black"},{"offset":0.895,"color":"transparent"},
{"offset":0.899,"color":"transparent"},{"offset":0.9,"color":"black"},{"offset":0.901,"color":"transparent"},
{"offset":0.905,"color":"transparent"},{"offset":0.906,"color":"black"},{"offset":0.907,"color":"transparent"},
{"offset":0.911,"color":"transparent"},{"offset":0.912,"color":"black"},{"offset":0.913,"color":"transparent"},
{"offset":0.917,"color":"transparent"},{"offset":0.918,"color":"black"},{"offset":0.919,"color":"transparent"},
{"offset":0.923,"color":"transparent"},{"offset":0.924,"color":"black"},{"offset":0.925,"color":"transparent"},
{"offset":0.929,"color":"transparent"},{"offset":0.93,"color":"black"},{"offset":0.931,"color":"transparent"}
]}},
   "encoding": {"y": {"field": "y1", "type": "quantitative", "title": "Тисяч ктне"}, "y2": {"field": "y0"}}},
  {"mark": {"type": "point", "filled": true, "size": 0, "opacity": 1},
   "encoding": {
     "y": {"field": "y1", "type": "quantitative", "title": "Тисяч ктне"},
     "color": {"field": "source", "type": "nominal",
       "scale": {"domain": ["Вугілля","Природний газ","Атомна енергія","Гідроенергія","Біопаливо та відходи","Нафта","Вітрова, сонячна енергія тощо"],
                 "range": ["#4F81BD","#CCCCCC","#A6B8E2","#929292","#262626","#000000","#9C4A0B"]},
       "legend": {"orient": "none", "legendX": 47, "legendY": 460, "direction": "horizontal", "title": null,
         "symbolSize": 121, "labelFont": "Liberation Sans, Arial, sans-serif", "labelFontSize": 15.5, "labelColor": "#000000",
         "labelLimit": 0, "columnPadding": 14, "labelOffset": 4, "symbolStrokeWidth": 0, "symbolOpacity": 1}},
     "shape": {"field": "source", "type": "nominal",
       "scale": {"domain": ["Вугілля","Природний газ","Атомна енергія","Гідроенергія","Біопаливо та відходи","Нафта","Вітрова, сонячна енергія тощо"],
                 "range": ["square","square","square","square","square","M-0.8,-0.5L-0.5,-0.8L0,-0.3L0.5,-0.8L0.8,-0.5L0.3,0L0.8,0.5L0.5,0.8L0,0.3L-0.5,0.8L-0.8,0.5L-0.3,0Z","square"]}}
   }}
]
}
